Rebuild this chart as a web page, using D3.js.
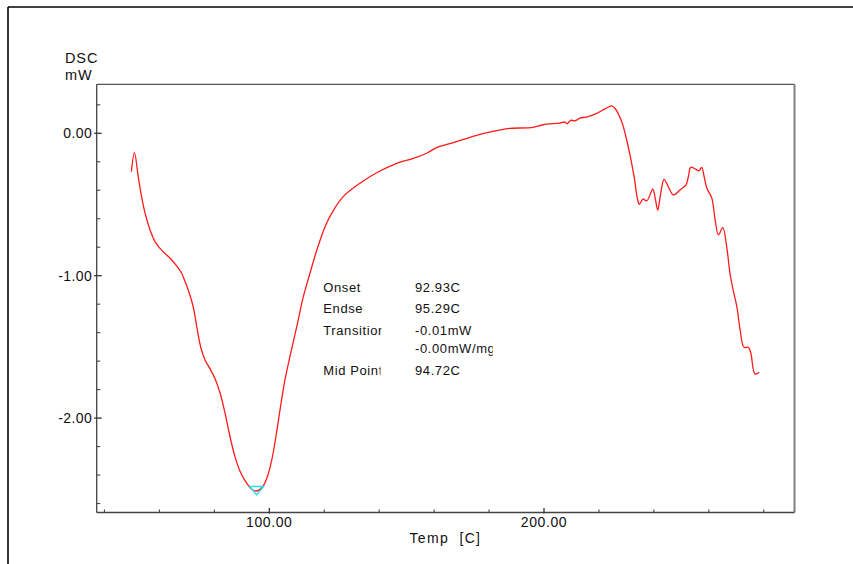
<!DOCTYPE html>
<html>
<head>
<meta charset="utf-8">
<script src="https://cdn.jsdelivr.net/npm/d3@7/dist/d3.min.js"></script>
<style>
  html, body { margin: 0; padding: 0; background: #fff; }
  svg { display: block; font-family: "Liberation Sans", Arial, sans-serif; }
</style>
</head>
<body>
<svg id="chart" width="853" height="564"></svg>
<script>
// ---- data ----
const temps = [49.8, 50.9, 52.3, 53.5, 54.8, 56.6, 58.4, 60.2, 63.9, 66.5, 68.1, 69.1, 70.5, 72.3, 73.6, 75.0,
  76.6, 78.2, 80.2, 82.1, 83.9, 85.7, 87.5, 89.3, 91.8, 93.6, 95.4, 97.6, 99.3, 100.9, 102.4, 103.9, 105.7,
  107.5, 110.0, 112.4, 114.8, 117.3, 120.3, 122.7, 126.9, 133.0, 139.1, 146.4, 152.4, 157.3, 160.9, 167.0,
  173.1, 176.7, 185.2, 187.6, 196.1, 199.7, 205.8, 207.6, 208.5, 209.7, 211.3, 213.1, 215.5, 219.2, 222.2,
  224.6, 225.8, 228.3, 230.1, 231.3, 232.8, 234.1, 234.7, 236.1, 237.4, 239.6, 240.6, 241.4, 242.4, 243.7,
  245.3, 247.1, 249.5, 251.7, 252.6, 253.4, 255.3, 256.4, 257.4, 258.4, 259.3, 261.1, 262.3, 263.5, 265.1,
  266.5, 267.7, 268.7, 270.2, 271.4, 272.8, 274.4, 275.3, 276.8, 278.4];
const dsc = [-0.270, -0.136, -0.305, -0.445, -0.562, -0.679, -0.761, -0.808, -0.878, -0.937, -0.983, -1.030,
  -1.100, -1.218, -1.358, -1.499, -1.592, -1.646, -1.721, -1.826, -1.966, -2.131, -2.271, -2.371, -2.458,
  -2.500, -2.512, -2.482, -2.412, -2.294, -2.131, -1.943, -1.732, -1.569, -1.358, -1.147, -0.983, -0.820,
  -0.656, -0.562, -0.445, -0.351, -0.277, -0.211, -0.176, -0.140, -0.101, -0.066, -0.028, -0.007, 0.028,
  0.035, 0.042, 0.060, 0.072, 0.079, 0.067, 0.091, 0.088, 0.107, 0.114, 0.140, 0.171, 0.192, 0.176, 0.081,
  -0.047, -0.152, -0.305, -0.468, -0.499, -0.461, -0.475, -0.393, -0.468, -0.539, -0.433, -0.323, -0.377,
  -0.433, -0.398, -0.363, -0.300, -0.239, -0.253, -0.263, -0.239, -0.314, -0.386, -0.456, -0.609, -0.714,
  -0.663, -0.796, -0.983, -1.088, -1.218, -1.381, -1.503, -1.503, -1.545, -1.690, -1.678];

const xDomain = [37.17, 291.19];
const yDomain = [-2.663, 0.344];
const xMajorTicks = [100, 200];
const xMinorTicks = [40, 60, 80, 120, 140, 160, 180, 220, 240, 260, 280];
const yMajorTicks = [0, -1, -2];
const yMinorTicks = [0.2, -0.2, -0.4, -0.6, -0.8, -1.2, -1.4, -1.6, -1.8, -2.2, -2.4, -2.6];
const xLabel = "Temp  [C]";
const yLabelLines = ["DSC", "mW"];
const annLabels = ["Onset", "Endset", "Transition", "", "Mid Point"];
const annValues = ["92.93C", "95.29C", "-0.01mW", "-0.00mW/mg", "94.72C"];
const peakTemp = 95.4, peakDsc = -2.512;

// ---- layout ----
const L = 96.7, R = 794.5, T = 84.3, B = 512.5;
const svg = d3.select("#chart");
const x = d3.scaleLinear().domain(xDomain).range([L, R]);
const y = d3.scaleLinear().domain(yDomain).range([B, T]);

// outer frame (left and top edges visible)
svg.append("line").attr("x1", 8).attr("x2", 8).attr("y1", 7).attr("y2", 564)
  .attr("stroke", "#000").attr("stroke-width", 1.6);
svg.append("line").attr("x1", 8).attr("x2", 853).attr("y1", 7).attr("y2", 7)
  .attr("stroke", "#000").attr("stroke-width", 1.6);

// plot frame
svg.append("line").attr("x1", L).attr("x2", R).attr("y1", T).attr("y2", T).attr("stroke", "#555").attr("stroke-width", 1.2);
svg.append("line").attr("x1", R).attr("x2", R).attr("y1", T).attr("y2", B).attr("stroke", "#808080").attr("stroke-width", 2);

// Y axis
const yAxisG = svg.append("g").attr("transform", `translate(${L},0)`);
yAxisG.append("line").attr("x1", 0).attr("x2", 0).attr("y1", T).attr("y2", B).attr("stroke", "#444").attr("stroke-width", 1.3);
yAxisG.selectAll(".ymin").data(yMinorTicks).join("line")
  .attr("x1", 0).attr("x2", 3.5).attr("y1", d => y(d)).attr("y2", d => y(d))
  .attr("stroke", "#444").attr("stroke-width", 1.1);
yAxisG.selectAll(".ymaj").data(yMajorTicks).join("line")
  .attr("x1", -2.5).attr("x2", 5).attr("y1", d => y(d)).attr("y2", d => y(d))
  .attr("stroke", "#333").attr("stroke-width", 1.3);
yAxisG.selectAll(".ylab").data(yMajorTicks).join("text")
  .attr("x", -4.5).attr("y", d => y(d)).attr("dy", "0.36em")
  .attr("text-anchor", "end").attr("font-size", 14).style("letter-spacing", "0.4px")
  .attr("fill", "#111").text(d => d3.format(".2f")(d).replace("−", "-"));

// X axis
const xAxisG = svg.append("g").attr("transform", `translate(0,${B})`);
xAxisG.append("line").attr("x1", L).attr("x2", R).attr("y1", 0).attr("y2", 0).attr("stroke", "#444").attr("stroke-width", 1.4);
xAxisG.selectAll(".xmin").data(xMinorTicks).join("line")
  .attr("x1", d => x(d)).attr("x2", d => x(d)).attr("y1", 0).attr("y2", -3)
  .attr("stroke", "#444").attr("stroke-width", 1.1);
xAxisG.selectAll(".xmaj").data(xMajorTicks).join("line")
  .attr("x1", d => x(d)).attr("x2", d => x(d)).attr("y1", 1).attr("y2", -4.5)
  .attr("stroke", "#333").attr("stroke-width", 1.3);
xAxisG.selectAll(".xlab").data(xMajorTicks).join("text")
  .attr("x", d => x(d)).attr("y", 14.5)
  .attr("text-anchor", "middle").attr("font-size", 14).style("letter-spacing", "0.6px")
  .attr("fill", "#111").text(d => d3.format(".2f")(d));

// axis titles
svg.append("text").attr("x", 409.5).attr("y", 543).attr("font-size", 14)
  .attr("textLength", 70.5).attr("lengthAdjust", "spacing")
  .style("white-space", "pre").attr("fill", "#111").text(xLabel);
svg.selectAll(".ytitle").data(yLabelLines).join("text")
  .attr("x", 65).attr("y", (d, i) => 63 + i * 17)
  .attr("font-size", 14.5).style("letter-spacing", "0.9px").attr("fill", "#111").text(d => d);

// curve
const pts = temps.map((t, i) => [t, dsc[i]]);
const line = d3.line().x(d => x(d[0])).y(d => y(d[1])).curve(d3.curveCatmullRom.alpha(0.5));
svg.append("path").datum(pts).attr("d", line)
  .attr("fill", "none").attr("stroke", "#ff1a1a").attr("stroke-width", 1.3);

// peak marker (cyan inverted triangle)
const px = x(peakTemp), py = y(peakDsc);
svg.append("path")
  .attr("d", `M${px - 7},${py - 4.5}L${px + 7},${py - 4.5}L${px},${py + 4}Z`)
  .attr("fill", "none").attr("stroke", "#22e0f0").attr("stroke-width", 1.3);

// annotation block (labels clipped like the instrument printout)
const annBase = [291.7, 312.7, 335, 353.3, 375.3];
const labelClip = [400, 363.5, 381.5, 400, 380.5];
const defs = svg.append("defs");
annLabels.forEach((lab, i) => {
  const id = "clipL" + i;
  defs.append("clipPath").attr("id", id).append("rect")
    .attr("x", 300).attr("y", annBase[i] - 16).attr("width", labelClip[i] - 300).attr("height", 22);
  svg.append("text").attr("x", 323.3).attr("y", annBase[i]).attr("clip-path", `url(#${id})`)
    .attr("font-size", 13).style("letter-spacing", "0.6px").attr("fill", "#111").text(lab);
});
defs.append("clipPath").attr("id", "clipV").append("rect")
  .attr("x", 400).attr("y", 270).attr("width", 92.7).attr("height", 120);
svg.append("g").attr("clip-path", "url(#clipV)").selectAll("text").data(annValues).join("text")
  .attr("x", 415).attr("y", (d, i) => annBase[i])
  .attr("font-size", 13).style("letter-spacing", "0.6px").attr("fill", "#111").text(d => d);
</script>
</body>
</html>
